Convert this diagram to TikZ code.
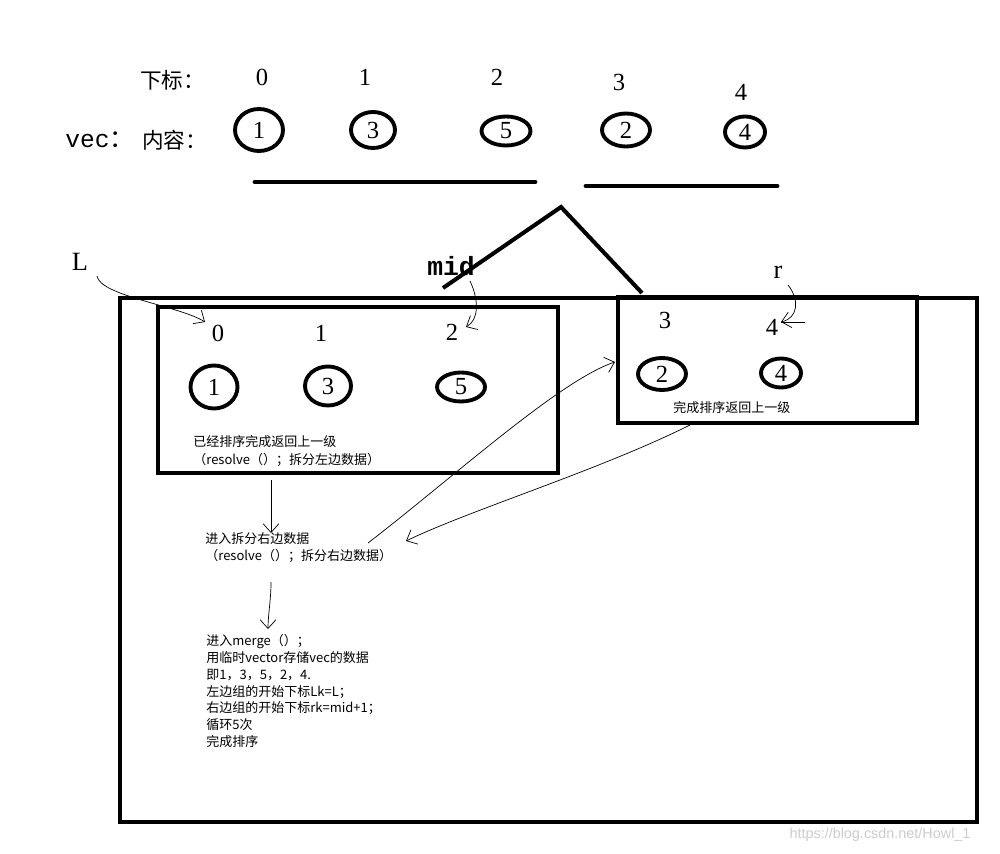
\documentclass[tikz,border=0pt]{standalone}
\usepackage{fontspec}
\setmainfont{Liberation Serif}
\setsansfont{Liberation Sans}
\setmonofont{Liberation Mono}
\newfontfamily\cjk{Noto Sans CJK SC}
\usetikzlibrary{arrows.meta, shapes.geometric}

\begin{document}
\begin{tikzpicture}[x=0.02cm, y=-0.02cm,
    >={Straight Barb[length=5pt,width=9pt]},
    idx/.style={font=\fontsize{14}{16}\selectfont},
    cell/.style 2 args={draw, ellipse, line width=2.2pt, inner sep=0pt,
              minimum width=#1, minimum height=#2,
              font=\fontsize{14}{16}\selectfont},
    lbl/.style={font=\cjk\fontsize{12.3}{14}\selectfont, anchor=west, inner sep=0pt},
    big/.style={font=\fontsize{15}{17}\selectfont, inner sep=0pt},
    note/.style={font=\cjk\fontsize{7.4}{9.64}\selectfont, align=left,
              anchor=west, inner sep=0pt},
    box/.style={draw, line width=2.8pt},
    bar/.style={line width=2.8pt, line cap=round},
    pen/.style={->, thin}]
  \useasboundingbox (0,0) rectangle (1000,854);

  % the whole vector
  \node[lbl] (hidx) at (140,80) {下标：};
  \node[lbl, font=\ttfamily\fontsize{14}{16}\selectfont] (hvec) at (65,140) {vec\cjk：};
  \node[lbl] (hval) at (142,140) {内容：};
  \node[idx] (i0) at (262,77) {0};
  \node[idx] (i1) at (365,77) {1};
  \node[idx] (i2) at (497,77) {2};
  \node[idx] (i3) at (619,82) {3};
  \node[idx] (i4) at (741,92) {4};
  \node[cell={0.96cm}{0.84cm}] (v0) at (259,130) {1};
  \node[cell={0.88cm}{0.72cm}] (v1) at (373,130) {3};
  \node[cell={0.98cm}{0.58cm}] (v2) at (506,131) {5};
  \node[cell={0.96cm}{0.66cm}] (v3) at (626,130) {2};
  \node[cell={0.80cm}{0.62cm}] (v4) at (745,132) {4};
  \draw[bar] (255,182) -- (535,182);
  \draw[bar] (586,186) -- (777,186);

  % split
  \coordinate (top) at (561,207);
  \coordinate (sl) at (443,288);
  \coordinate (sr) at (642,293);
  \draw[line width=2.3pt] (sl) -- (top) -- (sr);
  \node[big] (L) at (80,262) {L};
  \node[big, font=\ttfamily\bfseries\fontsize{15}{17}\selectfont] (mid) at (451,266) {mid};
  \node[big] (r) at (778,272) {r};

  % frames
  \draw[box] (120,298) rectangle (977,822);
  \draw[box] (158,307) rectangle (558,473);
  \draw[box] (618,297) rectangle (917,423);

  % left half
  \node[idx] (l0) at (218,333) {0};
  \node[idx] (l1) at (321,333) {1};
  \node[idx] (l2) at (452,332) {2};
  \node[cell={0.94cm}{0.86cm}] (a0) at (214,387) {1};
  \node[cell={0.92cm}{0.78cm}] (a1) at (328,386) {3};
  \node[cell={0.96cm}{0.58cm}] (a2) at (461,387) {5};
  \node[note] (t1) at (193,442) {已经排序完成返回上一级};
  \node[note] (t2) at (193,460) {（resolve（）；拆分左边数据）};

  % right half
  \node[idx] (r3) at (665,320) {3};
  \node[idx] (r4) at (772,327) {4};
  \node[cell={0.96cm}{0.64cm}] (b0) at (662,374) {2};
  \node[cell={0.80cm}{0.58cm}] (b1) at (781,373) {4};
  \node[note] (t5) at (673,408) {完成排序返回上一级};

  % steps
  \node[note] (t3) at (205,539) {进入拆分右边数据};
  \node[note] (t4) at (205,556) {（resolve（）；拆分右边数据）};
  \node[note] (t6) at (206,691) {进入merge（）；\\
    用临时vector存储vec的数据\\
    即1，3，5，2，4.\\
    左边组的开始下标Lk=L；\\
    右边组的开始下标rk=mid+1；\\
    循环5次\\
    完成排序};

  % pointers
  \coordinate (pL) at (97,276);
  \coordinate (pM) at (470,281);
  \coordinate (pR) at (788,285);
  \coordinate (hR) at (781,322);
  \draw[pen] (pL) .. controls (100,296) and (180,306) .. (205,322);
  \draw[pen] (pM) .. controls (479,300) and (479,320) .. (466,327);
  \draw[pen] (pR) .. controls (800,300) and (798,318) .. (hR);
  \draw[thin] (hR) -- (805,322);

  % flow
  \coordinate (f1) at (271,480);
  \coordinate (f2) at (271,533);
  \coordinate (f3) at (271,582);
  \coordinate (f4) at (268,629);
  \coordinate (f5) at (368,543);
  \coordinate (f6) at (615,362);
  \coordinate (f7) at (690,425);
  \coordinate (f8) at (406,541);
  \draw[pen] (f1) -- (f2);
  \draw[pen] (f3) .. controls (271,600) and (268,615) .. (f4);
  \draw[pen] (f5) .. controls (450,480) and (560,380) .. (f6);
  \draw[pen] (f7) .. controls (600,470) and (470,510) .. (f8);

  \node[font=\sffamily\fontsize{8.2}{9}\selectfont, text=gray!40] (wm) at (880,835)
    {https://blog.csdn.net/Howl\_1};
\end{tikzpicture}
\end{document}
